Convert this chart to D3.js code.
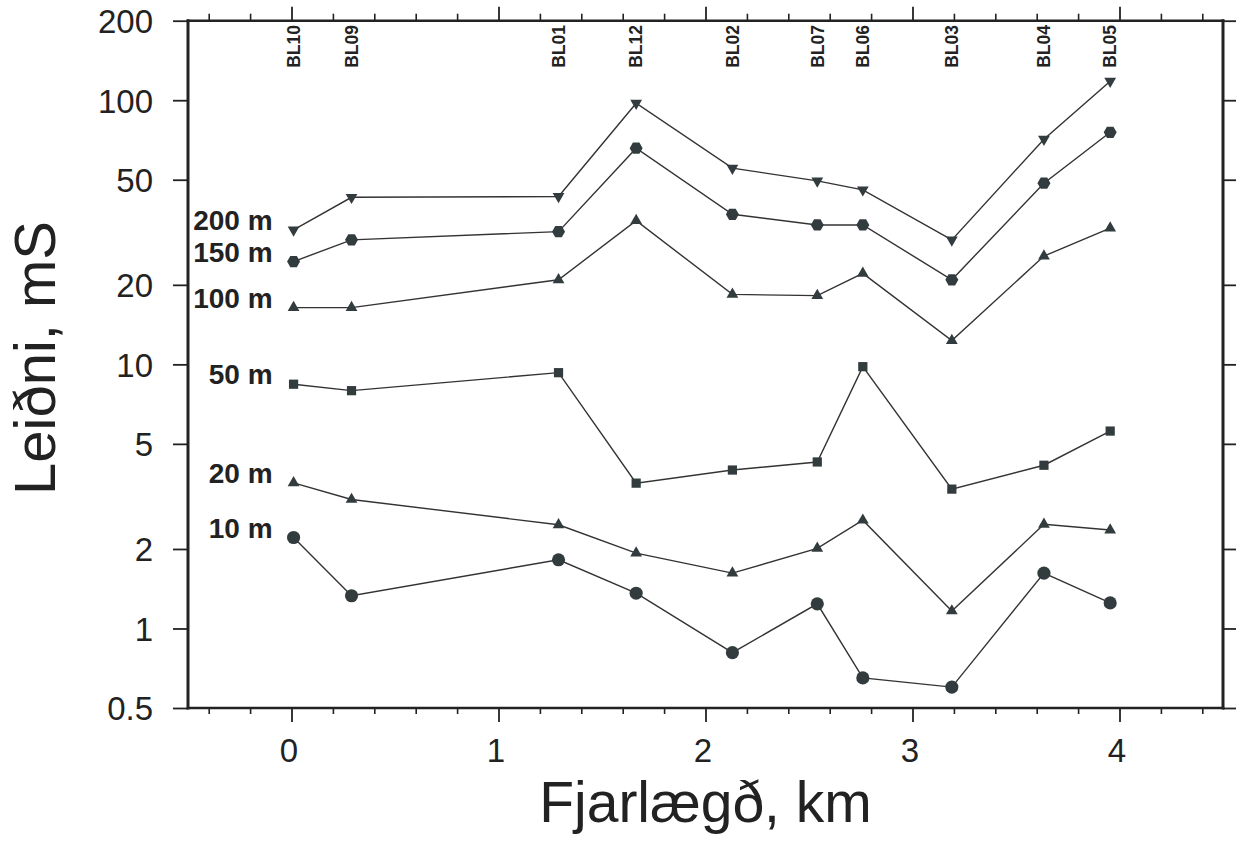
<!DOCTYPE html>
<html>
<head>
<meta charset="utf-8">
<script src="https://cdn.jsdelivr.net/npm/d3@7"></script>
<style>
  html, body { margin: 0; padding: 0; background: #fff; }
  svg { display: block; font-family: "Liberation Sans", Arial, Helvetica, sans-serif; }
</style>
</head>
<body>
<svg id="chart" width="1244" height="842"></svg>
<script>
// Boreholes along the profile and their distance from the first one (km)
const stations = ["BL10", "BL09", "BL01", "BL12", "BL02", "BL07", "BL06", "BL03", "BL04", "BL05"];
const distanceKm = [0.01, 0.29, 1.29, 1.665, 2.13, 2.54, 2.76, 3.19, 3.635, 3.955];

// Conductance (mS) at each depth, one value per borehole
const depths = ["200 m", "150 m", "100 m", "50 m", "20 m", "10 m"];
const cond200 = [32.3, 42.9, 43.2, 97.4, 55.3, 49.5, 45.8, 29.6, 71.2, 118];
const cond150 = [24.5, 29.6, 31.8, 65.8, 37.0, 33.7, 33.7, 20.9, 48.5, 75.6];
const cond100 = [16.4, 16.4, 20.9, 35.0, 18.4, 18.2, 22.1, 12.3, 25.7, 32.8];
const cond50  = [8.41, 7.95, 9.30, 3.55, 3.98, 4.27, 9.80, 3.37, 4.15, 5.59];
const cond20  = [3.56, 3.08, 2.47, 1.93, 1.62, 2.01, 2.57, 1.165, 2.48, 2.36];
const cond10  = [2.21, 1.33, 1.82, 1.36, 0.81, 1.24, 0.65, 0.60, 1.62, 1.25];

// Axis ticks
const yTicks = [0.5, 1, 2, 5, 10, 20, 50, 100, 200];
const xMajorTicks = [0, 1, 2, 3, 4];
const xMinorTicks = [-0.4, -0.2, 0.2, 0.4, 0.6, 0.8, 1.2, 1.4, 1.6, 1.8, 2.2, 2.4, 2.6, 2.8,
                     3.2, 3.4, 3.6, 3.8, 4.2, 4.4];

const seriesValues = [cond200, cond150, cond100, cond50, cond20, cond10];
const seriesMarkers = ["triDown", "hexagon", "triUp", "square", "triUp", "circle"];

const svg = d3.select("#chart");
const ink = "#222";
const markFill = "#323c3f";

const x = d3.scaleLinear().domain([-0.5, 4.5]).range([188, 1223]);
const y = d3.scaleLog().domain([0.5, 200]).range([708, 20.7]);
const [x0, x1] = x.range();
const [yB, yT] = y.range();

function styleAxis(g, sw) {
  g.select(".domain").remove();
  g.selectAll(".tick line").attr("stroke", ink).attr("stroke-width", sw);
}

// Bottom axis: minor and major ticks
svg.append("g").attr("transform", `translate(0,${yB})`)
  .call(d3.axisBottom(x).tickValues(xMinorTicks).tickSize(6).tickFormat(""))
  .call(g => styleAxis(g, 1.6));
const bottom = svg.append("g").attr("transform", `translate(0,${yB})`)
  .call(d3.axisBottom(x).tickValues(xMajorTicks).tickSize(14).tickFormat(d3.format("d")))
  .call(g => styleAxis(g, 1.8));
bottom.selectAll(".tick text")
  .attr("y", 54).attr("dy", 0).attr("x", -3)
  .attr("fill", ink).attr("font-size", 33).attr("font-family", "Liberation Sans, Arial, sans-serif");

// Top axis: ticks only
svg.append("g").attr("transform", `translate(0,${yT})`)
  .call(d3.axisTop(x).tickValues(xMinorTicks).tickSize(7).tickFormat(""))
  .call(g => styleAxis(g, 1.6));
svg.append("g").attr("transform", `translate(0,${yT})`)
  .call(d3.axisTop(x).tickValues(xMajorTicks).tickSize(14).tickFormat(""))
  .call(g => styleAxis(g, 1.8));

// Left axis with labels
const left = svg.append("g").attr("transform", `translate(${x0},0)`)
  .call(d3.axisLeft(y).tickValues(yTicks).tickSize(15).tickPadding(20).tickFormat(d => String(d)))
  .call(g => styleAxis(g, 1.8));
left.selectAll(".tick text")
  .attr("dy", "0.36em")
  .attr("fill", ink).attr("font-size", 33).attr("font-family", "Liberation Sans, Arial, sans-serif");

// Right axis: ticks only
svg.append("g").attr("transform", `translate(${x1},0)`)
  .call(d3.axisRight(y).tickValues(yTicks).tickSize(13).tickFormat(""))
  .call(g => styleAxis(g, 1.8));

// Frame
const frame = svg.append("g").attr("stroke", ink).attr("stroke-linecap", "square");
frame.append("line").attr("x1", x0).attr("x2", x0).attr("y1", yT).attr("y2", yB).attr("stroke-width", 3);
frame.append("line").attr("x1", x1).attr("x2", x1).attr("y1", yT).attr("y2", yB).attr("stroke-width", 3);
frame.append("line").attr("x1", x0).attr("x2", x1).attr("y1", yT).attr("y2", yT).attr("stroke-width", 2.4);
frame.append("line").attr("x1", x0).attr("x2", x1).attr("y1", yB).attr("y2", yB).attr("stroke-width", 2.6);

// Borehole names along the top
svg.append("g").selectAll("text")
  .data(stations)
  .join("text")
  .attr("transform", (d, i) => `translate(${x(distanceKm[i])},25) rotate(-90)`)
  .attr("text-anchor", "end")
  .attr("dy", "0.36em")
  .attr("font-size", 17.5).attr("font-weight", "bold").attr("fill", ink)
  .text(d => d);

// Marker shapes
const hexPath = r => {
  const pts = d3.range(6).map(k => {
    const a = Math.PI / 3 * k;
    return [r * Math.cos(a), r * Math.sin(a)];
  });
  return "M" + pts.map(p => p.join(",")).join("L") + "Z";
};
function markerPath(kind) {
  switch (kind) {
    case "triDown": return d3.symbol(d3.symbolTriangle, 60)();
    case "triUp": return d3.symbol(d3.symbolTriangle, 60)();
    case "square": return d3.symbol(d3.symbolSquare, 85)();
    case "circle": return d3.symbol(d3.symbolCircle, 136)();
    case "hexagon": return hexPath(6.5);
  }
}

const line = d3.line().x((d, i) => x(distanceKm[i])).y(d => y(d));

seriesValues.forEach((vals, si) => {
  const g = svg.append("g");
  g.append("path")
    .attr("d", line(vals))
    .attr("fill", "none").attr("stroke", "#333").attr("stroke-width", 1.4);
  const kind = seriesMarkers[si];
  g.selectAll("path.mk")
    .data(vals)
    .join("path")
    .attr("class", "mk")
    .attr("d", markerPath(kind))
    .attr("transform", (d, i) => `translate(${x(distanceKm[i])},${y(d)})` + (kind === "triDown" ? " rotate(180)" : ""))
    .attr("fill", markFill);
  // depth label at the start of each profile
  g.append("text")
    .attr("x", x(distanceKm[0]) - 21)
    .attr("y", y(vals[0]))
    .attr("text-anchor", "end")
    .attr("font-size", 28).attr("font-weight", "bold").attr("fill", ink)
    .text(depths[si]);
});

// Axis titles
svg.append("text")
  .attr("x", (x0 + x1) / 2).attr("y", 822)
  .attr("text-anchor", "middle")
  .attr("font-size", 57).attr("fill", ink)
  .text("Fjarlægð, km");

svg.append("text")
  .attr("transform", "translate(55,358) rotate(-90)")
  .attr("text-anchor", "middle")
  .attr("font-size", 58).attr("fill", ink)
  .text("Leiðni, mS");
</script>
</body>
</html>
